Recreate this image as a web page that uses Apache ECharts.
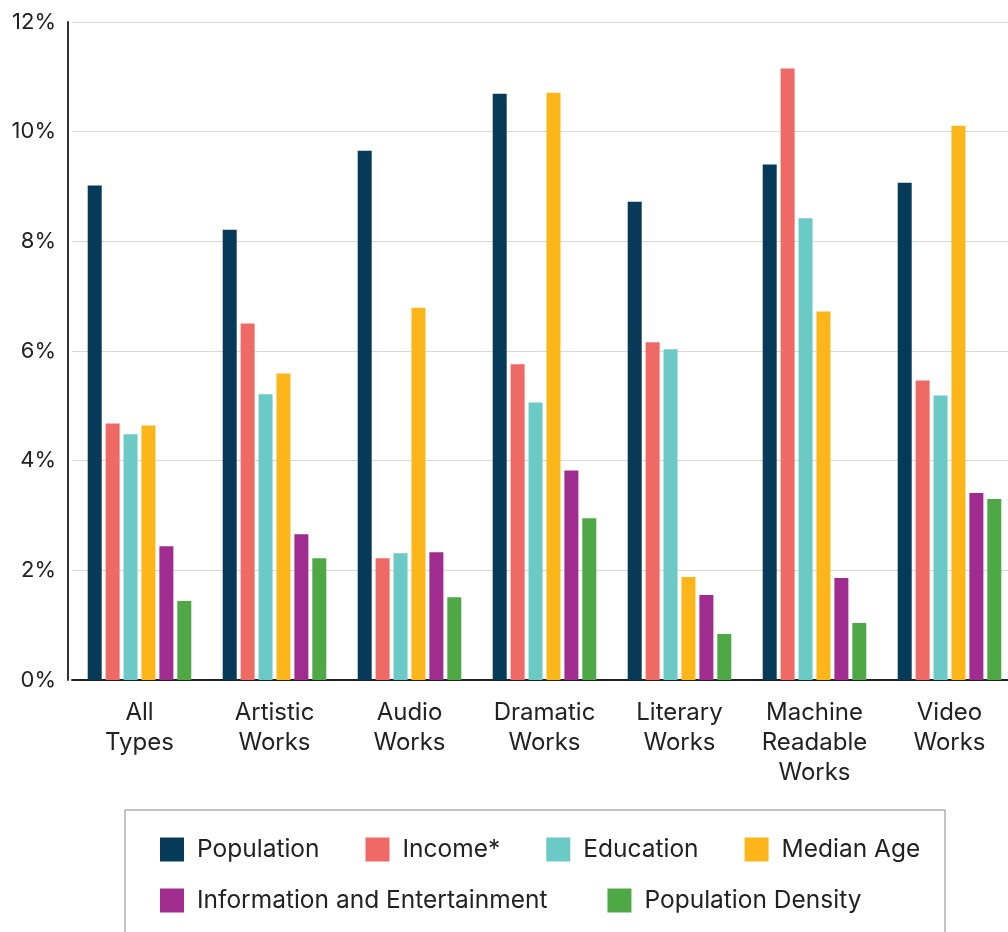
<!DOCTYPE html>
<html>
<head>
    <meta charset="utf-8">
    <title>Works by type</title>
    <script src="https://cdn.jsdelivr.net/npm/echarts@6/dist/echarts.min.js"></script>
    <style>
        html, body { margin: 0; padding: 0; background: #fff; }
        #chart { width: 1008px; height: 932px; }
    </style>
</head>
<body>
<div id="chart"></div>
<script>
    // categories and series values (percent)
    var categories = ['All\nTypes', 'Artistic\nWorks', 'Audio\nWorks', 'Dramatic\nWorks', 'Literary\nWorks', 'Machine\nReadable\nWorks', 'Video\nWorks'];
    var population  = [9.02, 8.21, 9.65, 10.69, 8.72, 9.40, 9.07];
    var income      = [4.68, 6.50, 2.22, 5.76, 6.16, 11.15, 5.46];
    var education   = [4.48, 5.21, 2.31, 5.06, 6.03, 8.42, 5.19];
    var medianAge   = [4.64, 5.59, 6.79, 10.71, 1.88, 6.72, 10.11];
    var infoEnt     = [2.44, 2.66, 2.33, 3.82, 1.55, 1.86, 3.41];
    var popDensity  = [1.44, 2.22, 1.51, 2.95, 0.84, 1.04, 3.30];

    var seriesNames = ['Population', 'Income*', 'Education', 'Median Age', 'Information and Entertainment', 'Population Density'];
    var seriesData = [population, income, education, medianAge, infoEnt, popDensity];
    var colors = ['#063a58', '#f06a65', '#6bc9c6', '#fcb61a', '#a02c90', '#4ea846'];

    var font = 'Inter, Roboto, sans-serif';

    var chart = echarts.init(document.getElementById('chart'));

    var series = seriesNames.map(function (name, i) {
        return {
            name: name,
            type: 'bar',
            data: seriesData[i],
            barWidth: 14,
            barGap: '28%',
            itemStyle: { color: colors[i] }
        };
    });

    var legendText = { fontSize: 24.5, fontFamily: font, color: '#222', padding: [0, 0, 0, 8] };

    chart.setOption({
        backgroundColor: '#fff',
        animation: false,
        color: colors,
        grid: { left: 72, top: 22, width: 945, height: 658, outerBoundsMode: 'none' },
        xAxis: {
            type: 'category',
            data: categories,
            axisLine: { lineStyle: { color: '#222', width: 2 } },
            axisTick: { show: false },
            axisLabel: {
                color: '#222', fontSize: 24, fontFamily: font,
                lineHeight: 30, margin: 18, interval: 0
            }
        },
        yAxis: {
            type: 'value',
            min: 0, max: 12, interval: 2,
            offset: 4,
            axisLine: { show: true, lineStyle: { color: '#333', width: 2 } },
            axisTick: { show: false },
            splitLine: { lineStyle: { color: '#d9d9d9', width: 1 } },
            axisLabel: {
                formatter: '{value}%', color: '#222', fontSize: 22,
                fontFamily: font, margin: 12
            }
        },
        legend: [{
            data: seriesNames.slice(0, 4),
            left: 160, top: 837, padding: 0,
            itemWidth: 24, itemHeight: 24, itemGap: 46,
            icon: 'rect',
            textStyle: legendText
        }, {
            data: seriesNames.slice(4),
            left: 160, top: 888, padding: 0,
            itemWidth: 24, itemHeight: 24, itemGap: 60,
            icon: 'rect',
            textStyle: legendText
        }],
        graphic: [{
            type: 'rect',
            shape: { x: 125, y: 810, width: 820, height: 140 },
            style: { fill: 'none', stroke: '#8a8a8a', lineWidth: 1 },
            silent: true
        }],
        series: series
    });
</script>
</body>
</html>
